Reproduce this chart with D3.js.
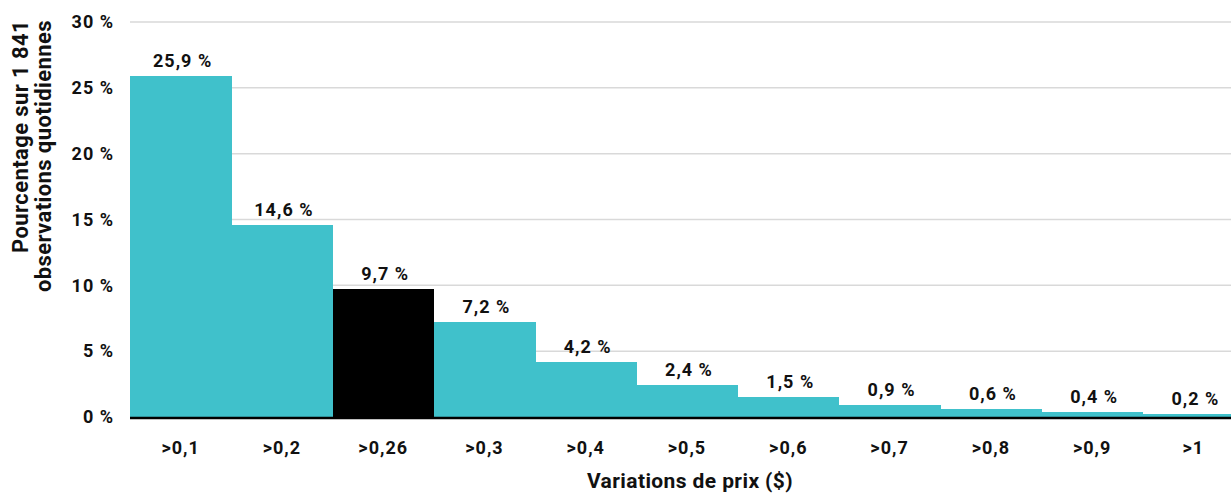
<!DOCTYPE html>
<html>
<head>
<meta charset="utf-8">
<script src="https://cdn.jsdelivr.net/npm/d3@7"></script>
<style>
  html, body { margin: 0; padding: 0; background: #fff; }
  svg { display: block; }
  text { font-family: Roboto, "Liberation Sans", sans-serif; font-weight: 700; fill: #111; }
</style>
</head>
<body>
<svg id="chart" width="1231" height="493"></svg>
<script>
// Price-change thresholds and the share of daily observations above each one
const categories = [">0,1", ">0,2", ">0,26", ">0,3", ">0,4", ">0,5", ">0,6", ">0,7", ">0,8", ">0,9", ">1"];
const values = [25.9, 14.6, 9.7, 7.2, 4.2, 2.4, 1.5, 0.9, 0.6, 0.4, 0.2];
const highlighted = [">0,26"];
const yTicks = [0, 5, 10, 15, 20, 25, 30];

const svg = d3.select("#chart");
const W = 1231, H = 493;
const mLeft = 130, mRight = 1244, mTop = 22, mBottom = 417;

const x = d3.scaleBand().domain(categories).range([mLeft, mRight]).padding(0);
const y = d3.scaleLinear().domain([0, 30]).range([mBottom, mTop]);

const fmt = v => d3.format(".1f")(v).replace(".", ",") + " %";

const styleLabel = sel => sel
  .attr("font-size", 18).attr("font-family", "Roboto, sans-serif")
  .attr("font-weight", 700).attr("fill", "#111")
  .attr("letter-spacing", 1);

// Horizontal gridlines
svg.append("g")
  .selectAll("line")
  .data(yTicks.filter(t => t > 0))
  .join("line")
  .attr("x1", mLeft).attr("x2", W)
  .attr("y1", d => y(d)).attr("y2", d => y(d))
  .attr("stroke", "#d9d9d9").attr("stroke-width", 1.5);

// Y tick labels
const yAxis = d3.axisLeft(y).tickValues(yTicks).tickSize(0).tickPadding(0)
  .tickFormat(d => d + " %");
const gy = svg.append("g").attr("transform", `translate(${mLeft - 16},0)`).call(yAxis);
gy.select(".domain").remove();
gy.selectAll("text").call(styleLabel);

// Bars
svg.append("g")
  .attr("shape-rendering", "crispEdges")
  .selectAll("rect")
  .data(categories)
  .join("rect")
  .attr("x", d => x(d))
  .attr("width", x.bandwidth() + 0.5)
  .attr("y", (d, i) => y(values[i]))
  .attr("height", (d, i) => y(0) - y(values[i]))
  .attr("fill", d => highlighted.includes(d) ? "#000000" : "#40c1cb");

// Value labels
svg.append("g")
  .selectAll("text")
  .data(categories)
  .join("text")
  .attr("x", d => x(d) + x.bandwidth() / 2 + 2)
  .attr("y", (d, i) => y(values[i]) - 9)
  .attr("text-anchor", "middle")
  .call(styleLabel)
  .text((d, i) => fmt(values[i]));

// Baseline
svg.append("line")
  .attr("x1", mLeft).attr("x2", W)
  .attr("y1", y(0) + 1).attr("y2", y(0) + 1)
  .attr("stroke", "#000").attr("stroke-width", 2.5);

// X tick labels
const xAxis = d3.axisBottom(x).tickSize(0).tickPadding(0);
const gx = svg.append("g").attr("transform", `translate(0,${mBottom + 24})`).call(xAxis);
gx.select(".domain").remove();
gx.selectAll("text").call(styleLabel).attr("dy", "0.71em");

// Axis titles
svg.append("text")
  .attr("x", 690).attr("y", 488)
  .attr("text-anchor", "middle")
  .attr("font-size", 21)
  .attr("letter-spacing", 0.4)
  .text("Variations de prix ($)");

const yTitle = svg.append("text")
  .attr("transform", "translate(28,20) rotate(-90)")
  .attr("text-anchor", "end")
  .attr("font-size", 22)
  .attr("letter-spacing", 0.4);
yTitle.append("tspan").attr("x", 0).attr("dy", 0).text("Pourcentage sur 1 841");
yTitle.append("tspan").attr("x", 0).attr("dy", 23).text("observations quotidiennes");
</script>
</body>
</html>
